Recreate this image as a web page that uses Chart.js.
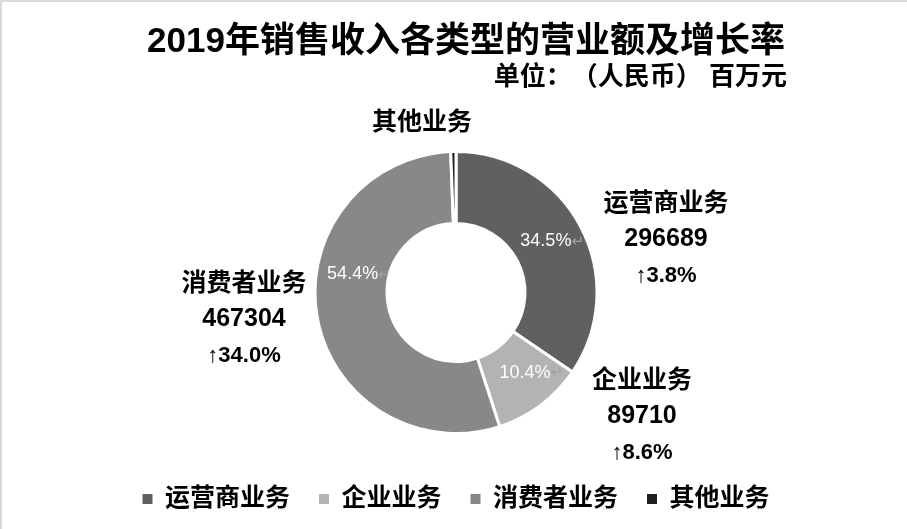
<!DOCTYPE html>
<html>
<head>
<meta charset="utf-8">
<script src="https://cdn.jsdelivr.net/npm/chart.js@4/dist/chart.umd.min.js"></script>
<style>
  body { margin: 0; background: #fff; }
  #wrap { position: relative; width: 907px; height: 529px; font-family: "Liberation Sans", "Noto Sans CJK SC", sans-serif; }
  #frame { position: absolute; left: 0; top: 0; width: 907px; height: 529px; box-sizing: border-box; border-top: 2px solid #d9d9d9; border-left: 2px solid #d9d9d9; pointer-events: none; }
  #title { position: absolute; left: 0; top: 20px; width: 932px; text-align: center; font-size: 35px; font-weight: bold; line-height: 40px; color: #000; }
  #unit { position: absolute; right: 120px; top: 61px; font-size: 26px; font-weight: bold; line-height: 30px; color: #000; white-space: pre; text-spacing-trim: space-all; font-feature-settings: "halt" 0; }
  canvas { position: absolute; left: 0; top: 0; }
</style>
</head>
<body>
<div id="wrap">
  <canvas id="revenue-chart" width="907" height="529"></canvas>
  <div id="title">2019年销售收入各类型的营业额及增长率</div>
  <div id="unit">单位：（人民币） 百万元</div>
  <div id="frame"></div>
</div>
<script>
const categories = ['运营商业务', '企业业务', '消费者业务', '其他业务'];
const revenue = [296689, 89710, 467304, 5130];
const growth = ['3.8%', '8.6%', '34.0%', null];
const colors = ['#606060', '#b3b3b3', '#888888', '#1f1f1f'];

const total = revenue.reduce((a, b) => a + b, 0);
const shares = revenue.map(v => (v / total * 100).toFixed(1) + '%');

const FONT = '"Liberation Sans", "Noto Sans CJK SC", sans-serif';

// percentage inside the ring, the picture has small return marks after them
const innerLabels = {
    id: 'innerLabels',
    afterDatasetsDraw(chart, args, opts) {
        const ctx = chart.ctx;
        const arcs = chart.getDatasetMeta(0).data;
        ctx.save();
        ctx.textBaseline = 'middle';
        arcs.forEach((arc, i) => {
            const nudge = opts.nudge[i];
            if (!nudge) return;
            const p = arc.tooltipPosition();
            const x = p.x + nudge[0];
            const y = p.y + nudge[1];
            ctx.font = '18px ' + FONT;
            ctx.fillStyle = '#ffffff';
            ctx.textAlign = 'center';
            ctx.fillText(shares[i], x, y);
            const w = ctx.measureText(shares[i]).width;
            ctx.font = '15px "DejaVu Sans"';
            ctx.fillStyle = '#a0a0a0';
            ctx.textAlign = 'left';
            ctx.fillText('↵', x + w / 2, y + 1);
        });
        ctx.restore();
    }
};

// name / value / growth blocks around the ring
const outerLabels = {
    id: 'outerLabels',
    afterDraw(chart, args, opts) {
        const ctx = chart.ctx;
        const arc = chart.getDatasetMeta(0).data[0];
        const cx = arc.x, cy = arc.y;
        ctx.save();
        ctx.textAlign = 'center';
        ctx.textBaseline = 'middle';
        ctx.fillStyle = '#000';
        categories.forEach((name, i) => {
            const [dx, dy] = opts.offsets[i];
            const x = cx + dx, y = cy + dy;
            if (growth[i] === null) {
                ctx.font = 'bold 25px ' + FONT;
                ctx.fillText(name, x, y);
                return;
            }
            ctx.font = 'bold 25px ' + FONT;
            ctx.fillText(name, x, y - 35);
            ctx.fillText(String(revenue[i]), x, y);
            ctx.font = 'bold 22px ' + FONT;
            ctx.fillText('↑' + growth[i], x, y + 36);
        });
        ctx.restore();
    }
};

new Chart(document.getElementById('revenue-chart'), {
    type: 'doughnut',
    data: {
        labels: categories,
        datasets: [{
            data: revenue,
            backgroundColor: colors,
            borderColor: '#ffffff',
            borderWidth: 3,
            radius: 141,
            cutout: 80
        }]
    },
    options: {
        responsive: false,
        animation: false,
        layout: { padding: { left: 10, right: 5, top: 127.5, bottom: 7.5 } },
        plugins: {
            tooltip: { enabled: false },
            legend: {
                position: 'bottom',
                align: 'center',
                labels: {
                    boxWidth: 10,
                    boxHeight: 10,
                    padding: 29,
                    color: '#000',
                    font: { family: FONT, size: 25, weight: 'bold' },
                    generateLabels(chart) {
                        const items = Chart.overrides.doughnut.plugins.legend.labels.generateLabels(chart);
                        items.forEach(it => { it.lineWidth = 0; });
                        return items;
                    }
                }
            },
            innerLabels: { nudge: [[-3, -2], [6, -4], [0, -37], null] },
            outerLabels: { offsets: [[210, -53], [186, 124], [-212, 27], [-34, -169]] }
        }
    },
    plugins: [innerLabels, outerLabels]
});
</script>
</body>
</html>
